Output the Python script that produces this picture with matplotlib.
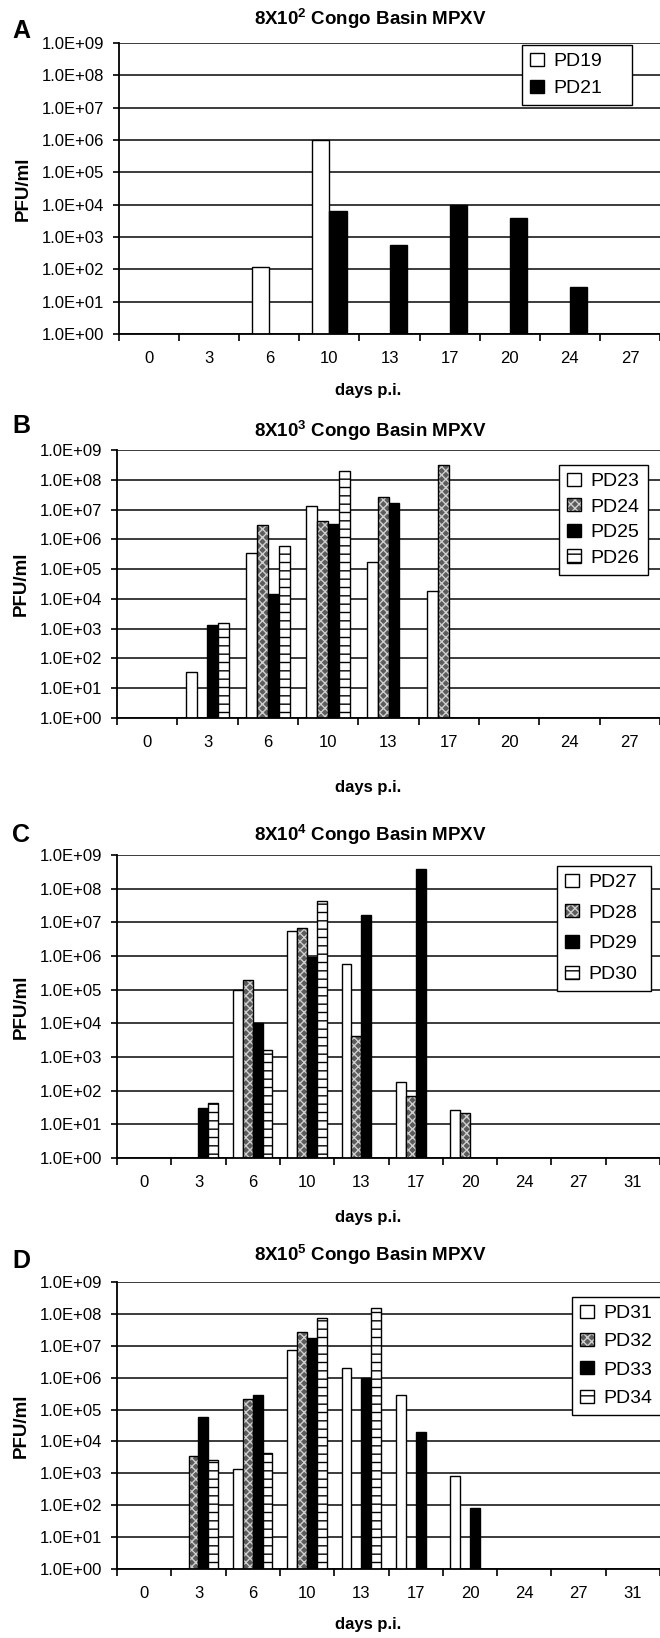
import numpy as np
import matplotlib
matplotlib.use('Agg')
import matplotlib.pyplot as plt
from matplotlib.patches import Patch
from matplotlib.ticker import FixedLocator, NullFormatter, FuncFormatter, NullLocator

plt.rcParams['font.family'] = ['Liberation Sans', 'DejaVu Sans']
plt.rcParams['mathtext.fontset'] = 'custom'
plt.rcParams['mathtext.rm'] = 'Liberation Sans'
plt.rcParams['mathtext.bf'] = 'Liberation Sans:bold'
plt.rcParams['hatch.linewidth'] = 1.0

nan = np.nan

"""data read off the figure (PFU/ml), nan = nothing detected"""
days_9 = ['0', '3', '6', '10', '13', '17', '20', '24', '27']
days_10 = ['0', '3', '6', '10', '13', '17', '20', '24', '27', '31']

# A: 8x10^2
a_names = ['PD19', 'PD21']
pd19 = [nan, nan, 1.2e2, 1.0e6, nan, nan, nan, nan, nan]
pd21 = [nan, nan, nan, 6.2e3, 5.8e2, 1.0e4, 4.0e3, 2.8e1, nan]

# B: 8x10^3
b_names = ['PD23', 'PD24', 'PD25', 'PD26']
pd23 = [nan, 3.5e1, 3.5e5, 1.3e7, 1.7e5, 1.8e4, nan, nan, nan]
pd24 = [nan, nan, 3.1e6, 4.0e6, 2.6e7, 3.2e8, nan, nan, nan]
pd25 = [nan, 1.3e3, 1.5e4, 3.3e6, 1.6e7, nan, nan, nan, nan]
pd26 = [nan, 1.5e3, 5.8e5, 2.0e8, nan, nan, nan, nan, nan]

# C: 8x10^4
c_names = ['PD27', 'PD28', 'PD29', 'PD30']
pd27 = [nan, nan, 1.0e5, 5.4e6, 5.7e5, 1.8e2, 2.7e1, nan, nan, nan]
pd28 = [nan, nan, 1.9e5, 7.0e6, 4.1e3, 6.8e1, 2.1e1, nan, nan, nan]
pd29 = [nan, 3.0e1, 1.0e4, 9.5e5, 1.7e7, 3.9e8, nan, nan, nan, nan]
pd30 = [nan, 4.2e1, 1.6e3, 4.2e7, nan, nan, nan, nan, nan, nan]

# D: 8x10^5
d_names = ['PD31', 'PD32', 'PD33', 'PD34']
pd31 = [nan, nan, 1.4e3, 7.6e6, 2.0e6, 2.8e5, 8.2e2, nan, nan, nan]
pd32 = [nan, 3.5e3, 2.2e5, 2.7e7, nan, nan, nan, nan, nan, nan]
pd33 = [nan, 5.9e4, 2.8e5, 1.8e7, 1.0e6, 2.0e4, 8.0e1, nan, nan, nan]
pd34 = [nan, 2.6e3, 4.2e3, 7.3e7, 1.5e8, nan, nan, nan, nan, nan]

W, H = 660, 1638
fig = plt.figure(figsize=(W / 100, H / 100), dpi=100)

# bar styles: white, checker, black, ladder
white = dict(facecolor='white', edgecolor='black', linewidth=1)
black = dict(facecolor='black', edgecolor='black', linewidth=1)
ladder = dict(facecolor='white', edgecolor='black', hatch='--', linewidth=1)
checker_fill = dict(facecolor='#5c5c5c', edgecolor='#cfcfcf', hatch='xxxx', linewidth=0)
checker_edge = dict(fill=False, edgecolor='black', linewidth=1)


def px(x, y):
    return x / W, 1 - y / H


def panel(box, letter_y, title_y, xlab_dy, dose, cats, series, names, styles, leg_box, leg_sp, letter):
    left, top, bottom = box
    x0, y0 = px(left, bottom)
    x1, y1 = px(W, top)
    ax = fig.add_axes([x0, y0, x1 - x0, y1 - y0])

    n = len(series)
    w = 1.0 / (n + 1.5)   # excel gap width 150%
    idx = np.arange(len(cats))
    handles = []
    for j, (vals, st) in enumerate(zip(series, styles)):
        xs = idx + (j - (n - 1) / 2) * w
        if st == 'checker':
            ax.bar(xs, vals, w, log=True, **checker_fill)
            ax.bar(xs, vals, w, log=True, **checker_edge)
            handles.append((Patch(**checker_fill), Patch(**checker_edge)))
        else:
            ax.bar(xs, vals, w, log=True, **st)
            handles.append(Patch(**st))

    ax.set_yscale('log')
    ax.set_ylim(1, 1e9)
    ax.set_xlim(-0.5, len(cats) - 0.5)
    ax.yaxis.set_major_locator(FixedLocator(10.0 ** np.arange(10)))
    ax.yaxis.set_minor_locator(NullLocator())
    ax.yaxis.set_major_formatter(FuncFormatter(lambda v, p: '1.0E+%02d' % round(np.log10(v))))
    ax.yaxis.grid(True, color='#1a1a1a', linewidth=1.2)
    ax.set_axisbelow(True)

    ax.xaxis.set_major_locator(FixedLocator(np.arange(len(cats) + 1) - 0.5))
    ax.xaxis.set_major_formatter(NullFormatter())
    ax.xaxis.set_minor_locator(FixedLocator(idx))
    ax.set_xticklabels(cats, minor=True)
    ax.tick_params(axis='x', which='major', direction='out', length=5, width=1.2)
    ax.tick_params(axis='x', which='minor', length=0, pad=12, labelsize=12)
    ax.tick_params(axis='y', direction='out', length=4.5, width=1.2, pad=6, labelsize=12)

    for s in ['top', 'right']:
        ax.spines[s].set_visible(False)
    for s in ['left', 'bottom']:
        ax.spines[s].set_linewidth(1.3)

    ax.set_ylabel('PFU/ml', fontsize=13.5, fontweight='bold', labelpad=7)
    ax.set_xlabel('days p.i.', fontsize=12, fontweight='bold')
    # label centre sits left of the plot centre, as in the original
    ax.xaxis.set_label_coords((368 - left) / (W - left), -xlab_dy / (bottom - top))

    fig.text(370 / W, 1 - title_y / H, r'$\mathbf{8X10^{%s}}$ Congo Basin MPXV' % dose,
             ha='center', va='center', fontsize=13.5, fontweight='bold')
    fig.text(12 / W, 1 - letter_y / H, letter, ha='left', va='center',
             fontsize=18, fontweight='bold')

    lx, ly, lw = leg_box
    bx, by = px(lx, ly)
    leg = ax.legend(handles, names, loc='upper left', mode='expand',
                    bbox_to_anchor=(bx, by - 0.01, lw / W, 0.01),
                    bbox_transform=fig.transFigure, fontsize=14, frameon=True,
                    fancybox=False, framealpha=1, edgecolor='black', borderpad=0.4,
                    labelspacing=leg_sp, handlelength=0.72, handleheight=0.66,
                    handletextpad=0.5, borderaxespad=0)
    leg.get_frame().set_linewidth(1.0)
    return ax


panel((119, 43, 334), 31, 19, 49, '2', days_9, [pd19, pd21], a_names, [white, black],
      (522, 45, 110), 0.5, 'A')
panel((117, 450, 718), 426, 431, 62, '3', days_9, [pd23, pd24, pd25, pd26], b_names,
      [white, 'checker', black, ladder], (559, 465, 89), 0.42, 'B')
panel((117, 855, 1158), 835, 835, 52, '4', days_10, [pd27, pd28, pd29, pd30], c_names,
      [white, 'checker', black, ladder], (557, 866, 94), 0.68, 'C')
panel((117, 1282, 1569), 1261, 1255, 48, '5', days_10, [pd31, pd32, pd33, pd34], d_names,
      [white, 'checker', black, ladder], (572, 1297, 79 + 10), 0.56, 'D')

fig.savefig('out.png', dpi=100)
